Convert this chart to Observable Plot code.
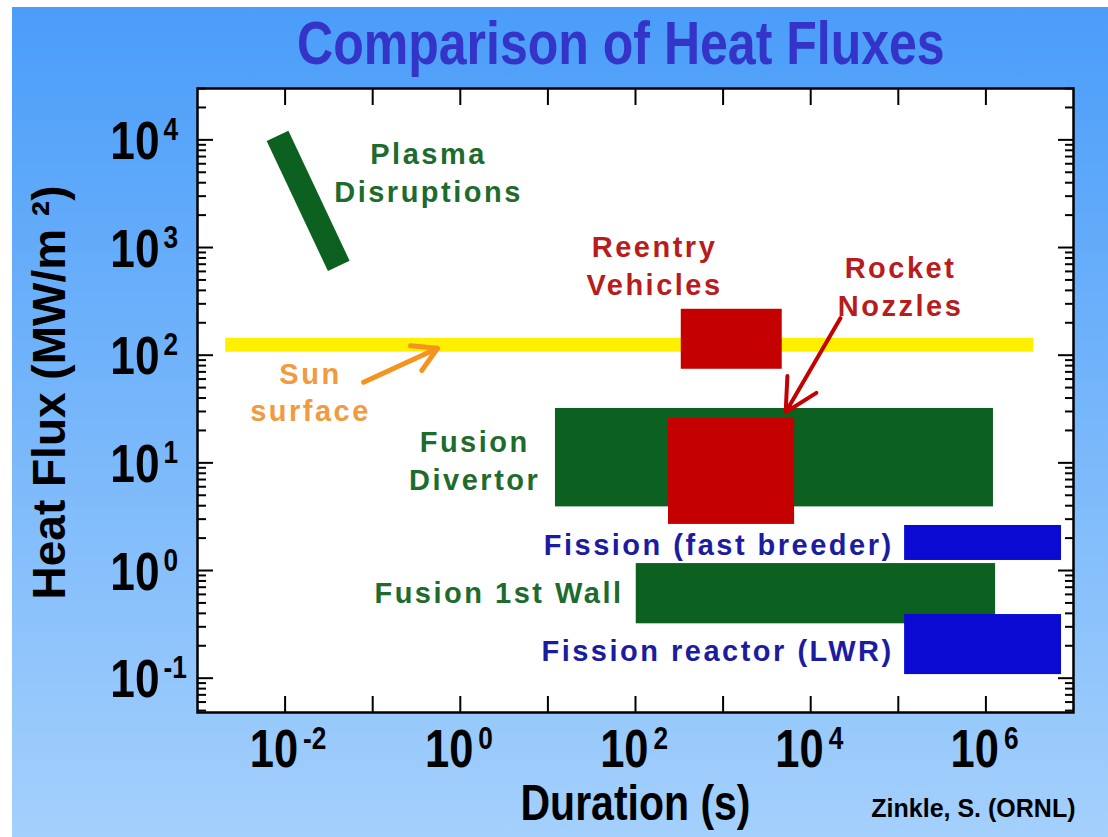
<!DOCTYPE html>
<html>
<head>
<meta charset="utf-8">
<script src="https://cdn.jsdelivr.net/npm/d3@7"></script>
<script src="https://cdn.jsdelivr.net/npm/@observablehq/plot@0.6"></script>
<style>
  html, body { margin: 0; padding: 0; background: #ffffff; }
  #wrap { position: absolute; left: 12px; top: 7px; width: 1096px; height: 830px;
          background: linear-gradient(#4a9df9, #a4d0fc); overflow: hidden; }
  #title { position: absolute; left: 209px; width: 800px; top: 6px; text-align: center; white-space: nowrap; }
  #title span { display: inline-block; transform: scaleX(0.82); transform-origin: 50% 50%;
           font-family: 'Liberation Sans', Arial, sans-serif;
           font-weight: bold; font-size: 61px; line-height: 61px; color: #3434c8; }
  #chart { position: absolute; left: 0; top: 74px; }
</style>
</head>
<body>
<div id="wrap">
  <div id="title"><span>Comparison of Heat Fluxes</span></div>
  <div id="chart"></div>
</div>
<script>
// ---------- data ----------
const regionNames = ["Fusion Divertor", "Fusion 1st Wall", "Reentry Vehicles", "Rocket Nozzles", "Fission (fast breeder)", "Fission reactor (LWR)"];
const regionDurMin = [12.2, 102, 333, 238, 1.18e5, 1.18e5];
const regionDurMax = [1.22e6, 1.29e6, 4730, 6550, 7.3e6, 7.3e6];
const regionFluxMin = [3.9, 0.32, 74, 2.68, 1.24, 0.108];
const regionFluxMax = [32, 1.16, 267, 26, 2.62, 0.39];
const regionKind = ["fusion", "fusion", "aero", "aero", "fission", "fission"];

const sunDuration = [0.0021, 3.5e6];
const sunFlux = 125;

const plasmaDuration = [0.0082, 0.041];
const plasmaFlux = [1.09e4, 675];

const labelTexts = ["Plasma\nDisruptions", "Reentry\nVehicles", "Rocket\nNozzles", "Sun\nsurface", "Fusion\nDivertor", "Fission (fast breeder)", "Fusion 1st Wall", "Fission reactor (LWR)"];
const labelDur = [0.434, 165, 1.06e5, 0.0195, 1.46, 8.85e4, 73, 8.85e4];
const labelFlux = [5150, 703, 448, 47.2, 10.8, 1.71, 0.61, 0.177];
const labelKind = ["fusionText", "aeroText", "aeroText", "sunText", "fusionText", "fissionText", "fusionText", "fissionText"];
const labelAlign = ["middle", "middle", "middle", "middle", "middle", "end", "end", "end"];

const arrowFrom = [[21900, 221], [0.0787, 56.1]];
const arrowTo = [[5180, 29.5], [0.55, 116]];
const arrowKind = ["aero", "sun"];

const xTickExps = [-2, -1, 0, 1, 2, 3, 4, 5, 6];
const xLabelExps = [-2, 0, 2, 4, 6];
const yTickExps = [-1, 0, 1, 2, 3, 4];
const yLabelExps = [-1, 0, 1, 2, 3, 4];

// ---------- styles ----------
const palette = {
  fusion: "#0c6020", aero: "#c40000", fission: "#0a0ad2", sun: "#f5931f",
  fusionText: "#1e6b2e", aeroText: "#b81c1c", fissionText: "#1c1ca0", sunText: "#f29a3f",
  yellow: "#fff000"
};
const SANS = "'Liberation Sans', Arial, Helvetica, sans-serif";

// ---------- tables ----------
const regions = regionNames.map((name, i) => ({
  name, x1: regionDurMin[i], x2: regionDurMax[i], y1: regionFluxMin[i], y2: regionFluxMax[i],
  color: palette[regionKind[i]]
}));
const plasma = plasmaDuration.map((d, i) => ({x: d, y: plasmaFlux[i]}));
const labels = labelTexts.map((t, i) => ({text: t, x: labelDur[i], y: labelFlux[i], color: palette[labelKind[i]], align: labelAlign[i]}));
const arrows = arrowFrom.map((f, i) => ({x1: f[0], y1: f[1], x2: arrowTo[i][0], y2: arrowTo[i][1], color: palette[arrowKind[i]]}));
const xTicks = xTickExps.map(e => 10 ** e);
const yMajor = yTickExps.map(e => 10 ** e);
const yMinor = [];
for (let e = -2; e <= 4; e++) for (let m = 2; m <= 9; m++) {
  const v = m * 10 ** e;
  if (v >= 0.048 && v <= 3e4) yMinor.push(v);
}

const tickStyle = {tickFormat: () => "", label: null, strokeWidth: 2, stroke: "black"};
const narrow = {fontWeight: "bold", fontFamily: SANS, fill: "black", ariaDescription: "narrow"};

const chart = Plot.plot({
  width: 1096,
  height: 756,
  marginLeft: 185,
  marginRight: 35,
  marginTop: 7,
  marginBottom: 125,
  style: {background: "transparent", overflow: "visible"},
  x: {type: "log", domain: [1e-3, 1e7]},
  y: {type: "log", domain: [0.048, 3e4]},
  color: {type: "identity"},
  marks: [
    Plot.frame({fill: "white", stroke: null}),
    Plot.ruleY([sunFlux], {x1: sunDuration[0], x2: sunDuration[1], stroke: palette.yellow, strokeWidth: 14}),
    Plot.line(plasma, {x: "x", y: "y", stroke: palette.fusion, strokeWidth: 24, strokeLinecap: "butt"}),
    Plot.rect(regions, {x1: "x1", x2: "x2", y1: "y1", y2: "y2", fill: "color"}),
    Plot.arrow(arrows.slice(0, 1), {x1: "x1", y1: "y1", x2: "x2", y2: "y2", stroke: "color", strokeWidth: 4, headLength: 22, headAngle: 55}),
    Plot.arrow(arrows.slice(1), {x1: "x1", y1: "y1", x2: "x2", y2: "y2", stroke: "color", strokeWidth: 5, headLength: 20, headAngle: 60}),
    Plot.text(labels.filter(d => d.align === "middle"), {x: "x", y: "y", text: "text", fill: "color", textAnchor: "middle", lineAnchor: "middle",
      fontSize: 29, fontWeight: "bold", fontFamily: SANS, lineHeight: 1.3, ariaDescription: "annot"}),
    Plot.text(labels.filter(d => d.align === "end"), {x: "x", y: "y", text: "text", fill: "color", textAnchor: "end", lineAnchor: "middle",
      fontSize: 29, fontWeight: "bold", fontFamily: SANS, ariaDescription: "annot"}),
    // axes ticks (inward, mirrored)
    Plot.axisX(xTicks, {anchor: "bottom", tickSize: -16, ...tickStyle}),
    Plot.axisX(xTicks, {anchor: "top", tickSize: -16, ...tickStyle}),
    Plot.axisY(yMajor, {anchor: "left", tickSize: -16, ...tickStyle}),
    Plot.axisY(yMinor, {anchor: "left", tickSize: -9, ...tickStyle}),
    Plot.axisY(yMajor, {anchor: "right", tickSize: -16, ...tickStyle}),
    Plot.axisY(yMinor, {anchor: "right", tickSize: -9, ...tickStyle}),
    // tick labels
    Plot.text(xLabelExps, {x: e => 10 ** e, frameAnchor: "bottom", text: () => "10", dx: 13, dy: 38,
      textAnchor: "end", lineAnchor: "middle", fontSize: 53, ...narrow}),
    Plot.text(xLabelExps, {x: e => 10 ** e, frameAnchor: "bottom", text: e => String(e), dx: 18, dy: 26,
      textAnchor: "start", lineAnchor: "middle", fontSize: 32, ...narrow}),
    Plot.text(yLabelExps, {y: e => 10 ** e, frameAnchor: "left", text: () => "10", dx: -38, dy: 2,
      textAnchor: "end", lineAnchor: "middle", fontSize: 54, ...narrow}),
    Plot.text(yLabelExps, {y: e => 10 ** e, frameAnchor: "left", text: e => String(e), dx: -34, dy: -10,
      textAnchor: "start", lineAnchor: "middle", fontSize: 32, ...narrow}),
    // axis titles
    Plot.text(["Duration (s)"], {frameAnchor: "bottom", text: d => d, dy: 91, textAnchor: "middle", lineAnchor: "middle",
      fontSize: 50, ...narrow}),
    Plot.text(["Heat Flux (MW/m ²)"], {frameAnchor: "left", text: d => d, rotate: -90, dx: -147, dy: -8,
      textAnchor: "middle", lineAnchor: "middle", fontSize: 46, fontWeight: "bold", fontFamily: SANS, fill: "black"}),
    Plot.text(["Zinkle, S. (ORNL)"], {frameAnchor: "bottom-right", text: d => d, dx: 2, dy: 96,
      textAnchor: "end", lineAnchor: "middle", fontSize: 25, fontWeight: "bold", fontFamily: SANS, fill: "black"}),
    Plot.frame({stroke: "black", strokeWidth: 2.5})
  ]
});
document.getElementById("chart").appendChild(chart);
d3.select(chart).selectAll('g[aria-description="annot"] text').style("letter-spacing", "2.5px");
// condensed look for the large axis typography: squeeze each glyph run about its own anchor
d3.select(chart).selectAll('g[aria-description="narrow"] text').each(function() {
  const t = this.getAttribute("transform");
  if (t) {
    this.setAttribute("transform", t + " scale(0.82,1)");
  } else {
    const x = parseFloat(this.getAttribute("x")) || 0;
    this.setAttribute("transform", `translate(${x},0) scale(0.82,1) translate(${-x},0)`);
  }
});
</script>
</body>
</html>
